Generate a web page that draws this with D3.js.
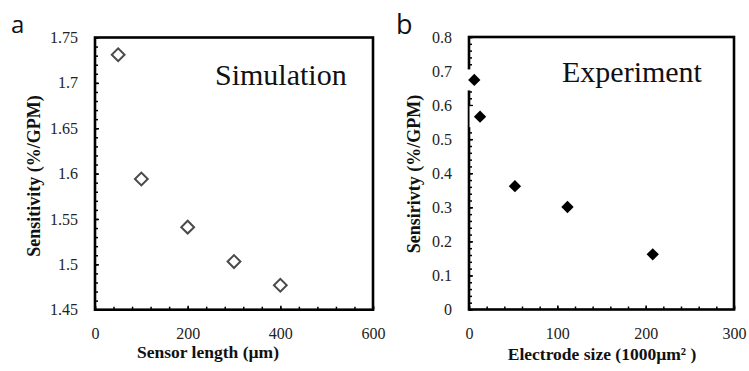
<!DOCTYPE html>
<html>
<head>
<meta charset="utf-8">
<script src="https://cdn.jsdelivr.net/npm/d3@7"></script>
<style>
  html, body { margin: 0; padding: 0; background: #fff; }
  svg { display: block; }
  svg text.tl { font-family: "Liberation Serif", serif !important; }
</style>
</head>
<body>
<svg id="chart" width="749" height="371"></svg>
<script>
// ---- Data ----
const simSensorLength = [50, 100, 200, 300, 400];          // µm
const simSensitivity  = [1.731, 1.594, 1.541, 1.503, 1.477]; // %/GPM

const expElectrodeSize = [6, 12.5, 52, 111.5, 208];        // 1000 µm²
const expSensitivity   = [0.674, 0.566, 0.362, 0.301, 0.162]; // %/GPM

const aXTicks = [0, 200, 400, 600];
const aYTicks = [1.45, 1.5, 1.55, 1.6, 1.65, 1.7, 1.75];
const bXTicks = [0, 100, 200, 300];
const bYTicks = [0, 0.1, 0.2, 0.3, 0.4, 0.5, 0.6, 0.7, 0.8];

const svg = d3.select("#chart");
const serif = '"Liberation Serif", "Times New Roman", serif';
const sans = '"Open Sans", "Noto Sans", sans-serif';

function styleAxis(sel) {
  sel.attr("font-family", serif).attr("font-size", 16);
  sel.select(".domain").remove();
  sel.selectAll(".tick line").attr("stroke", "#000").attr("stroke-width", 1.5);
  sel.selectAll(".tick text")
    .attr("class", "tl")
    .attr("font-family", serif).attr("font-size", 16)
    .style("font-size", "16px").attr("fill", "#222");
}

function panel(opts) {
  const g = svg.append("g");
  const x = d3.scaleLinear().domain(opts.xDomain).range([opts.left, opts.right]);
  const y = d3.scaleLinear().domain(opts.yDomain).range([opts.bottom, opts.top]);

  // minor ticks
  g.append("g").attr("transform", `translate(0,${opts.bottom})`)
    .call(d3.axisBottom(x).tickValues(d3.range(opts.xDomain[0], opts.xDomain[1] + 1e-9, opts.xMinor)).tickSize(-3).tickFormat(""))
    .call(styleAxis);
  g.append("g").attr("transform", `translate(${opts.left},0)`)
    .call(d3.axisLeft(y).tickValues(d3.range(0, Math.round((opts.yDomain[1]-opts.yDomain[0])/opts.yMinor)+1).map(i => opts.yDomain[0] + i*opts.yMinor)).tickSize(-3).tickFormat(""))
    .call(styleAxis);

  // major ticks with labels
  g.append("g").attr("transform", `translate(0,${opts.bottom})`)
    .call(d3.axisBottom(x).tickValues(opts.xTicks).tickSize(-4).tickPadding(18).tickFormat(d3.format("d")))
    .call(styleAxis);
  g.append("g").attr("transform", `translate(${opts.left},0)`)
    .call(d3.axisLeft(y).tickValues(opts.yTicks).tickSize(-4).tickPadding(17).tickFormat(opts.yFormat))
    .call(styleAxis);

  // frame
  g.append("rect")
    .attr("x", opts.left).attr("y", opts.top)
    .attr("width", opts.right - opts.left).attr("height", opts.bottom - opts.top)
    .attr("fill", "none").attr("stroke", "#000").attr("stroke-width", 2.6);

  // points
  const pts = g.append("g");
  const data = opts.xs.map((v, i) => [v, opts.ys[i]]);
  if (opts.filled) {
    pts.selectAll("rect.halo").data(data).join("rect")
      .attr("class", "halo")
      .attr("x", d => x(d[0]) - 10.5).attr("y", d => y(d[1]) - 10.5)
      .attr("width", 21).attr("height", 21).attr("fill", "#fff");
    pts.selectAll("path.pt").data(data).join("path")
      .attr("class", "pt")
      .attr("transform", d => `translate(${x(d[0])},${y(d[1])}) rotate(45)`)
      .attr("d", d3.symbol().type(d3.symbolSquare).size(76))
      .attr("fill", "#000");
  } else {
    pts.selectAll("path.pt").data(data).join("path")
      .attr("class", "pt")
      .attr("transform", d => `translate(${x(d[0])},${y(d[1])}) rotate(45)`)
      .attr("d", d3.symbol().type(d3.symbolSquare).size(82))
      .attr("fill", "#fff").attr("stroke", "#4a4a4a").attr("stroke-width", 2);
  }

  // titles
  g.append("text").attr("x", opts.xTitleX).attr("y", opts.xTitleY)
    .attr("text-anchor", "middle").attr("font-family", serif).attr("font-weight", "bold")
    .attr("font-size", 17.5).attr("fill", "#111").text(opts.xTitle);
  g.append("text").attr("transform", `translate(${opts.yTitleX},${opts.yTitleY}) rotate(-90)`)
    .attr("text-anchor", "middle").attr("font-family", serif).attr("font-weight", "bold")
    .attr("font-size", 18).attr("fill", "#111").text(opts.yTitle);

  // in-plot label
  g.append("text").attr("x", opts.labelX).attr("y", opts.labelY)
    .attr("font-family", serif).attr("font-size", 30).attr("fill", "#111").text(opts.label);

  // panel letter
  g.append("text").attr("x", opts.letterX).attr("y", opts.letterY)
    .attr("font-family", sans).attr("font-size", opts.letterSize).attr("fill", "#111").text(opts.letter);
}

panel({
  left: 95, right: 373, top: 37.5, bottom: 309.7,
  xDomain: [0, 600], yDomain: [1.45, 1.75], xMinor: 40, yMinor: 0.01,
  xTicks: aXTicks, yTicks: aYTicks, yFormat: d => String(+d.toFixed(2)),
  xs: simSensorLength, ys: simSensitivity, filled: false,
  xTitle: "Sensor length (\u00b5m)", xTitleX: 208, xTitleY: 358,
  yTitle: "Sensitivity (%/GPM)", yTitleX: 40, yTitleY: 176,
  label: "Simulation", labelX: 215, labelY: 85,
  letter: "a", letterX: 11, letterY: 33, letterSize: 24
});

panel({
  left: 469, right: 734, top: 37, bottom: 309.5,
  xDomain: [0, 300], yDomain: [0, 0.8], xMinor: 20, yMinor: 0.02,
  xTicks: bXTicks, yTicks: bYTicks, yFormat: d => String(+d.toFixed(1)),
  xs: expElectrodeSize, ys: expSensitivity, filled: true,
  xTitle: "Electrode size (1000\u00b5m\u00b2 )", xTitleX: 602, xTitleY: 360,
  yTitle: "Sensirivty (%/GPM)", yTitleX: 420, yTitleY: 174,
  label: "Experiment", labelX: 562, labelY: 82,
  letter: "b", letterX: 396, letterY: 34, letterSize: 27
});
</script>
</body>
</html>
